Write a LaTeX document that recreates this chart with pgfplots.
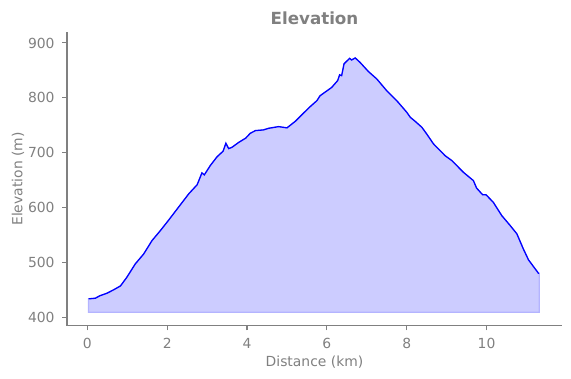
\documentclass[border=0pt]{standalone}
\usepackage{fontspec}
\setmainfont{DejaVu Sans}
\usepackage{pgfplots}
\pgfplotsset{compat=1.18}
\definecolor{txtgray}{RGB}{128,128,128}
\definecolor{fillblue}{RGB}{204,204,255}
\definecolor{edgeblue}{RGB}{180,180,255}
\begin{document}
\begin{tikzpicture}
\path[use as bounding box] (-67pt,-53pt) rectangle (504pt,325.5pt);
\begin{axis}[
  at={(0,0)}, anchor=south west,
  scale only axis, width=495pt, height=293pt,
  xmin=-0.51, xmax=11.89, ymin=386, ymax=919,
  axis x line*=bottom, axis y line*=left,
  axis line style={txtgray, line width=1.1pt},
  every tick/.style={txtgray, line width=1.1pt},
  major tick length=4.9pt,
  tick align=outside,
  xtick={0,2,4,6,8,10}, ytick={400,500,600,700,800,900},
  /pgf/number format/assume math mode=true,
  /pgf/number format/1000 sep={},
  tick label style={font=\fontsize{13.9}{16}\selectfont, text=txtgray},
  xticklabel style={yshift=-4pt},
  yticklabel style={xshift=-4pt},
  label style={font=\fontsize{13.9}{16}\selectfont, text=txtgray},
  xlabel={Distance (km)}, ylabel={Elevation (m)},
  xlabel style={yshift=-1pt},
  ylabel style={yshift=-3pt},
  title={\textbf{Elevation}},
  title style={font=\fontsize{16.7}{19}\selectfont, text=txtgray, at={(0.5,1)}, anchor=south, yshift=-2pt},
  clip=false,
]
\addplot[fill=fillblue, draw=edgeblue, line width=1.2pt] coordinates {
(0.03,410)
(0.03,434.5) (0.2,435.6) (0.31,440) (0.49,444.7) (0.66,451) (0.83,458) (0.99,473.8)
(1.2,498) (1.41,516) (1.62,540.5) (1.83,558.7) (2.04,578) (2.25,598) (2.54,625.5)
(2.75,642) (2.87,663.6) (2.93,660) (3.08,677) (3.25,693) (3.40,703) (3.47,717.5)
(3.54,707.8) (3.62,710) (3.79,719) (3.97,727) (4.08,735.6) (4.21,740.5) (4.41,741.8)
(4.54,744.7) (4.79,747.8) (5.0,745.5) (5.21,757.5) (5.41,772) (5.58,784) (5.75,795)
(5.83,804) (6.12,819) (6.27,831.5) (6.32,842) (6.37,840.5) (6.43,862) (6.57,872)
(6.62,869) (6.71,872.7) (6.83,864.7) (7.04,848) (7.25,834.5) (7.5,813) (7.75,795)
(8.0,774) (8.09,764.7) (8.21,757.5) (8.38,746.5) (8.5,734.5) (8.67,716.4) (8.96,695)
(9.13,686) (9.42,664.7) (9.67,649.6) (9.75,636) (9.90,624) (9.99,623.6) (10.17,610)
(10.38,586) (10.59,568) (10.76,552.7) (10.92,525.5) (11.05,505.5) (11.30,481) (11.32,481)
(11.32,410)
} -- cycle;
\addplot[blue, line width=1.3pt] coordinates {
(0.03,434.5) (0.2,435.6) (0.31,440) (0.49,444.7) (0.66,451) (0.83,458) (0.99,473.8)
(1.2,498) (1.41,516) (1.62,540.5) (1.83,558.7) (2.04,578) (2.25,598) (2.54,625.5)
(2.75,642) (2.87,663.6) (2.93,660) (3.08,677) (3.25,693) (3.40,703) (3.47,717.5)
(3.54,707.8) (3.62,710) (3.79,719) (3.97,727) (4.08,735.6) (4.21,740.5) (4.41,741.8)
(4.54,744.7) (4.79,747.8) (5.0,745.5) (5.21,757.5) (5.41,772) (5.58,784) (5.75,795)
(5.83,804) (6.12,819) (6.27,831.5) (6.32,842) (6.37,840.5) (6.43,862) (6.57,872)
(6.62,869) (6.71,872.7) (6.83,864.7) (7.04,848) (7.25,834.5) (7.5,813) (7.75,795)
(8.0,774) (8.09,764.7) (8.21,757.5) (8.38,746.5) (8.5,734.5) (8.67,716.4) (8.96,695)
(9.13,686) (9.42,664.7) (9.67,649.6) (9.75,636) (9.90,624) (9.99,623.6) (10.17,610)
(10.38,586) (10.59,568) (10.76,552.7) (10.92,525.5) (11.05,505.5) (11.30,481) (11.32,481)
};
\end{axis}
\end{tikzpicture}
\end{document}
